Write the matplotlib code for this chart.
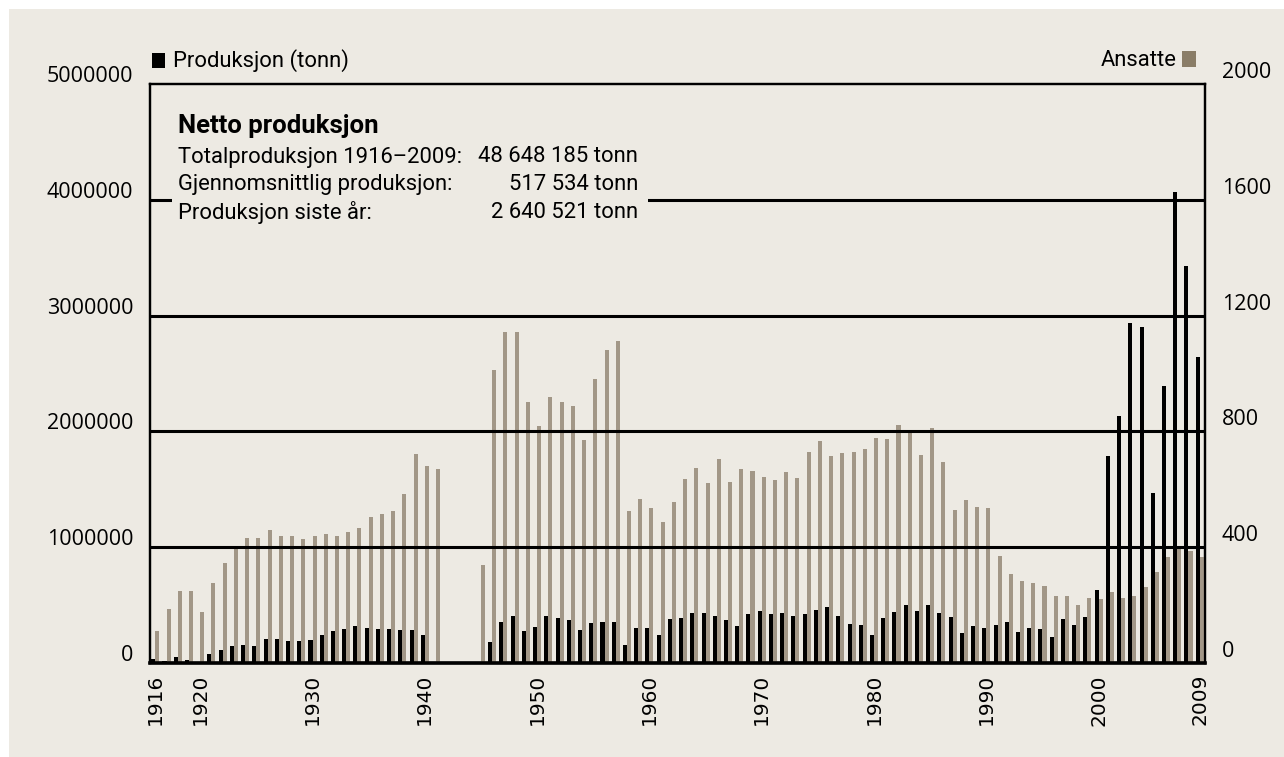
import matplotlib
matplotlib.use("Agg")
import matplotlib.pyplot as plt
from matplotlib.patches import Rectangle
from matplotlib.transforms import ScaledTranslation
import numpy as np

# data
years = np.arange(1916, 2010)
produksjon = [
    32000, 14000, 50000, 24000, 0, 75000, 109000, 144000, 152000, 144000,
    204000, 204000, 187000, 187000, 195000, 239000, 273000, 290000, 316000, 299000,
    290000, 290000, 282000, 282000, 239000, 0, 0, 0, 0, 10000,
    178000, 351000, 402000, 273000, 308000, 402000, 385000, 368000, 282000, 342000,
    351000, 351000, 152000, 299000, 299000, 239000, 376000, 385000, 428000, 428000,
    402000, 368000, 316000, 420000, 445000, 420000, 428000, 402000, 420000, 454000,
    480000, 402000, 333000, 325000, 239000, 385000, 437000, 497000, 445000, 497000,
    428000, 394000, 256000, 316000, 299000, 325000, 351000, 264000, 299000, 290000,
    221000, 378000, 326000, 395000, 628000, 1787000, 2133000, 2937000, 2902000, 1467000,
    2392000, 4069000, 3430000, 2640521,
]
ansatte = [
    109, 185, 247, 250, 175, 278, 347, 402, 433, 433,
    461, 440, 437, 430, 437, 444, 440, 454, 468, 506,
    516, 526, 585, 723, 681, 671, 0, 0, 0, 340,
    1013, 1144, 1144, 902, 819, 919, 902, 888, 771, 982,
    1082, 1113, 526, 568, 537, 488, 557, 637, 674, 623,
    705, 626, 671, 664, 643, 633, 661, 640, 730, 768,
    716, 726, 730, 740, 778, 774, 823, 799, 719, 812,
    695, 530, 564, 540, 537, 371, 307, 282, 275, 265,
    231, 231, 199, 224, 220, 244, 224, 231, 262, 314,
    365, 393, 386, 365,
]
x_ticks = [1916, 1920, 1930, 1940, 1950, 1960, 1970, 1980, 1990, 2000, 2009]
prod_ticks = [0, 1000000, 2000000, 3000000, 4000000, 5000000]
ans_ticks = [0, 400, 800, 1200, 1600, 2000]

info_labels = ["Totalproduksjon 1916\u20132009:", "Gjennomsnittlig produksjon:", "Produksjon siste \u00e5r:"]
info_values = ["48 648 185 tonn", "517 534 tonn", "2 640 521 tonn"]

bg = "#EDEAE3"
tan = "#A29787"
tan_dark = "#8A7D67"
narrow = ["Roboto", "DejaVu Sans"]

W, H = 1284, 757
fig = plt.figure(figsize=(W / 100, H / 100), dpi=100, facecolor="white")
fig.patches.append(Rectangle((9 / W, 0), 1 - 9 / W, 1 - 9 / H, transform=fig.transFigure,
                             facecolor=bg, edgecolor="none", zorder=-10))

def px(x, y):
    return x / W, 1 - y / H

ax = fig.add_axes([150 / W, 1 - 663 / H, 1055 / W, 579 / H])
ax.set_facecolor("none")
ax.bar(years - 0.18, produksjon, width=0.36, color="black", zorder=2)
ax.set_xlim(1915.53, 2009.47)
ax.set_ylim(0, 5000000)
ax.set_yticks(prod_ticks)
ax.set_yticklabels([str(v) for v in prod_ticks], fontsize=15.5, fontfamily="Open Sans")
ax.set_xticks(x_ticks)
ax.set_xticklabels([str(v) for v in x_ticks], rotation=90, fontsize=14.5, fontfamily="DejaVu Sans")
ax.tick_params(axis="y", length=0, pad=12)
ax.tick_params(axis="x", length=0, pad=8)

ax2 = ax.twinx()
ax2.bar(years + 0.18, ansatte, width=0.36, color=tan, zorder=2)
ax2.set_ylim(0, 2000)
ax2.set_yticks(ans_ticks)
ax2.set_yticklabels([str(v) for v in ans_ticks], fontsize=15.5, fontfamily="Open Sans")
ax2.tick_params(axis="y", length=0, pad=12)
for v in ans_ticks[1:-1]:
    ax2.axhline(v, color="black", lw=2.2, zorder=3)

for a in (ax, ax2):
    for s in a.spines.values():
        s.set_linewidth(1.6)
        s.set_color("black")
ax2.spines["bottom"].set_linewidth(2.6)

# lift the y labels a bit above their lines
for lab in ax.get_yticklabels():
    lab.set_transform(lab.get_transform() + ScaledTranslation(0, 0.10, fig.dpi_scale_trans))
for lab in ax2.get_yticklabels():
    lab.set_transform(lab.get_transform() + ScaledTranslation(0, 0.14, fig.dpi_scale_trans))

# legend markers
fig.patches.append(Rectangle(px(152, 68), 13 / W, 15 / H, transform=fig.transFigure,
                             facecolor="black", edgecolor="none", zorder=2))
fig.text(*px(173, 61), "Produksjon (tonn)", fontsize=15.8, family=narrow, va="center", ha="left")
fig.patches.append(Rectangle(px(1182, 67), 14 / W, 16 / H, transform=fig.transFigure,
                             facecolor=tan_dark, edgecolor="none", zorder=2))
fig.text(*px(1177, 61), "Ansatte", fontsize=15.8, family=narrow, va="center", ha="right")

# info block
fig.patches.append(Rectangle(px(172, 226), 476 / W, 118 / H, transform=fig.transFigure,
                             facecolor=bg, edgecolor="none", zorder=2))
fig.text(*px(178, 126), "Netto produksjon", fontsize=18.5, fontweight="bold", family=narrow,
         va="center", ha="left", zorder=3)
for i, (lab, val) in enumerate(zip(info_labels, info_values)):
    y = 157 + 27.5 * i
    fig.text(*px(178, y), lab, fontsize=15.8, family=narrow, va="center", ha="left", zorder=3)
    fig.text(*px(638, y), val, fontsize=15.8, family=narrow, va="center", ha="right", zorder=3)

fig.savefig("out.png", dpi=100, facecolor=fig.get_facecolor())
